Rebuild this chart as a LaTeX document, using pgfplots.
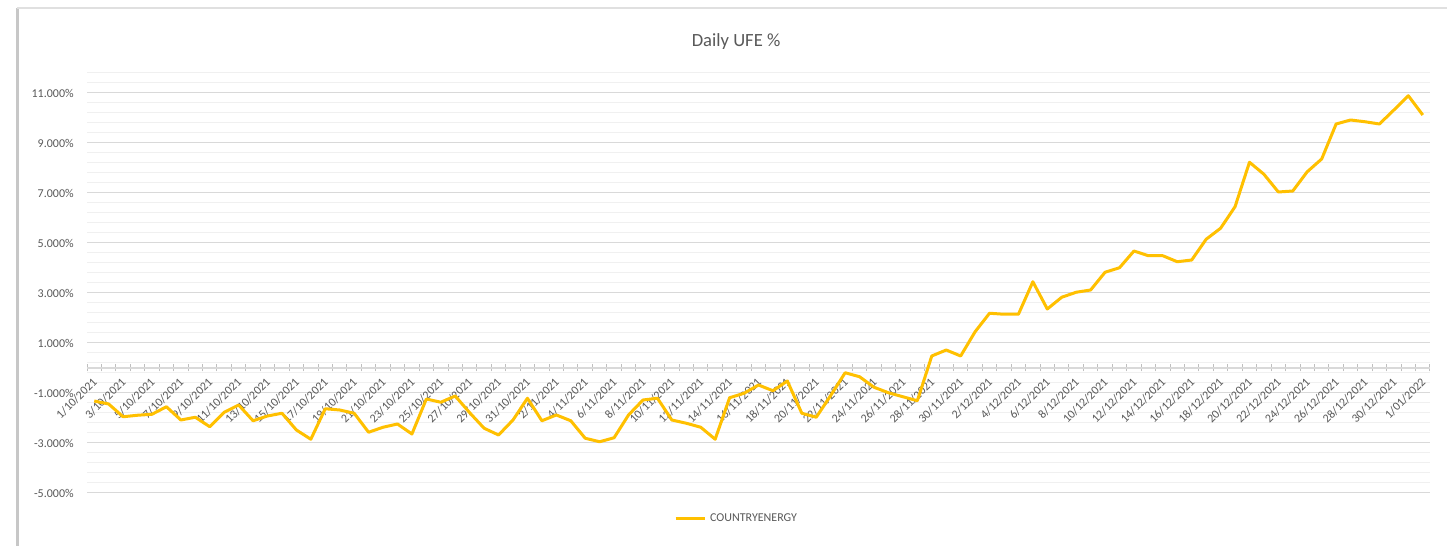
\documentclass[border=0pt]{standalone}
\usepackage{fontspec}
\setmainfont{Carlito}
\usepackage{pgfplots}
\pgfplotsset{compat=1.18}
\definecolor{gold}{HTML}{FFC000}
\definecolor{txt}{HTML}{595959}
\definecolor{gmaj}{HTML}{D9D9D9}
\definecolor{gmin}{HTML}{F0F0F0}
\definecolor{tickc}{HTML}{BFBFBF}

\begin{document}
\begin{tikzpicture}
\useasboundingbox (0,0) rectangle (723.5pt,273pt);
\fill[white] (0,0) rectangle (723.5pt,273pt);
\draw[line width=1.5pt, color=black!22] (8.5pt,0) -- (8.5pt,269pt);
\draw[line width=0.6pt, color=black!12] (8.5pt,269pt) -- (723.5pt,269pt);
\begin{axis}[
  at={(43.5pt,26.5pt)}, anchor=south west,
  scale only axis, width=671.5pt, height=212.5pt,
  xmin=-0.5, xmax=92.5, ymin=-5, ymax=12,
  axis x line*=middle, axis y line*=left,
  x axis line style={-, draw=gmaj, line width=0.6pt},
  y axis line style={draw=none},
  ytick={-5,-3,...,11},
  minor ytick={-4.6,-4.2,...,11.8},
  ymajorgrids, yminorgrids,
  major grid style={draw=gmaj, line width=0.5pt},
  minor grid style={draw=gmin, line width=0.5pt},
  major y tick style={draw=none},
  minor y tick style={draw=none},
  yticklabel={\pgfmathprintnumber[fixed,fixed zerofill,precision=3,assume math mode=true]{\tick}\%},
  yticklabel style={font=\fontsize{6}{7}\selectfont, text=txt, xshift=-1pt},
  xtick={0,2,...,92},
  xticklabels={1/10/2021,3/10/2021,5/10/2021,7/10/2021,9/10/2021,11/10/2021,13/10/2021,15/10/2021,17/10/2021,19/10/2021,21/10/2021,23/10/2021,25/10/2021,27/10/2021,29/10/2021,31/10/2021,2/11/2021,4/11/2021,6/11/2021,8/11/2021,10/11/2021,12/11/2021,14/11/2021,16/11/2021,18/11/2021,20/11/2021,22/11/2021,24/11/2021,26/11/2021,28/11/2021,30/11/2021,2/12/2021,4/12/2021,6/12/2021,8/12/2021,10/12/2021,12/12/2021,14/12/2021,16/12/2021,18/12/2021,20/12/2021,22/12/2021,24/12/2021,26/12/2021,28/12/2021,30/12/2021,1/01/2022},
  major x tick style={draw=none},
  minor xtick={-0.5,0.5,...,92.5},
  minor x tick style={draw=tickc, line width=0.5pt},
  minor tick length=3.5pt,
  tick align=center,
  xticklabel style={rotate=45, anchor=east, font=\fontsize{6}{7}\selectfont, text=txt, yshift=-3pt, xshift=1pt},
  title={Daily UFE \%},
  title style={at={(0.4833,1)}, anchor=center, yshift=7pt, font=\fontsize{9.3}{11}\selectfont, text=txt},
  legend style={at={(0.4844,0)}, anchor=center, yshift=-13pt, draw=none, fill=none, font=\fontsize{6}{7}\selectfont, text=txt},
  legend cell align=left,
  legend image code/.code={\draw[#1, line width=1.5pt] (0pt,0pt) -- (14.5pt,0pt);},
]
\addplot[color=gold, line width=1.5pt, mark=none, line join=round] table[x=i, y=v] {
i v
0 -1.32
1 -1.44
2 -1.95
3 -1.89
4 -1.85
5 -1.55
6 -2.08
7 -1.97
8 -2.35
9 -1.77
10 -1.48
11 -2.11
12 -1.92
13 -1.81
14 -2.48
15 -2.85
16 -1.63
17 -1.68
18 -1.81
19 -2.57
20 -2.37
21 -2.24
22 -2.64
23 -1.24
24 -1.37
25 -1.12
26 -1.79
27 -2.41
28 -2.68
29 -2.08
30 -1.21
31 -2.11
32 -1.88
33 -2.11
34 -2.81
35 -2.95
36 -2.79
37 -1.88
38 -1.28
39 -1.21
40 -2.08
41 -2.21
42 -2.37
43 -2.85
44 -1.19
45 -1.01
46 -0.68
47 -0.91
48 -0.52
49 -1.81
50 -1.97
51 -1.10
52 -0.19
53 -0.35
54 -0.77
55 -0.99
56 -1.15
57 -1.31
58 0.48
59 0.72
60 0.48
61 1.45
62 2.19
63 2.15
64 2.15
65 3.45
66 2.36
67 2.83
68 3.03
69 3.12
70 3.83
71 4.01
72 4.68
73 4.49
74 4.49
75 4.25
76 4.32
77 5.15
78 5.59
79 6.45
80 8.23
81 7.75
82 7.04
83 7.08
84 7.85
85 8.36
86 9.76
87 9.92
88 9.85
89 9.76
90 10.32
91 10.89
92 10.12
};
\addlegendentry{COUNTRYENERGY}
\end{axis}
\end{tikzpicture}
\end{document}
